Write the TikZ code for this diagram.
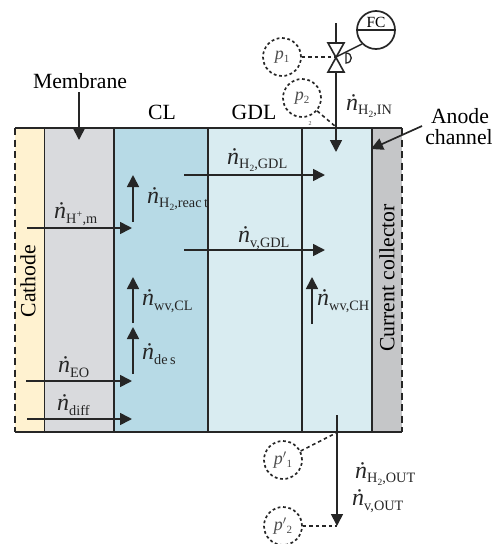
\documentclass[tikz,border=0pt]{standalone}
\usepackage{fontspec}
\setmainfont{Liberation Serif}
\usetikzlibrary{arrows.meta}
\newcommand{\nd}{{\fontsize{24}{24}\selectfont\itshape\.n}}
\newcommand{\sbs}[1]{\raisebox{-4.5pt}{\fontsize{14.3}{15}\selectfont #1}}
\newcommand{\tsb}[1]{\raisebox{-2.5pt}{\fontsize{9.5}{10}\selectfont #1}}
\newcommand{\psym}[2]{{\fontsize{18}{18}\selectfont\itshape p\/\upshape#1\raisebox{-3pt}{\fontsize{11}{11}\selectfont #2}}}
\tikzset{
  layer/.style={draw=black!85,line width=1.8pt},
  bigtxt/.style={font=\fontsize{21.7}{23}\selectfont,inner sep=0pt},
  flowlab/.style={inner sep=0pt,anchor=west,text=black!85},
  flow/.style={line width=1.7pt,draw=black!85,-{Triangle[length=12pt,width=12pt]}},
  plainline/.style={line width=1.7pt,draw=black!85},
  sensor/.style={circle,draw=black!85,line width=1.7pt,dash pattern=on 2.8pt off 2.6pt,minimum size=38pt,inner sep=0pt,text=black!70},
  sigline/.style={line width=1.6pt,draw=black!85,dash pattern=on 3.5pt off 3pt},
  valvepart/.style={draw=black!85,line width=1.6pt,fill=white}
}
\begin{document}
\begin{tikzpicture}[x=1pt,y=-1pt]
\useasboundingbox (0,0) rectangle (492,544);
% layers
\fill[fill={rgb,255:red,255;green,242;blue,208}] (15,128) rectangle (44,432);
\fill[fill={rgb,255:red,217;green,218;blue,221}] (44,128) rectangle (114,432);
\fill[fill={rgb,255:red,183;green,218;blue,230}] (114,128) rectangle (208,432);
\fill[fill={rgb,255:red,217;green,236;blue,241}] (208,128) rectangle (372,432);
\fill[fill={rgb,255:red,197;green,198;blue,200}] (372,128) rectangle (402,432);
\draw[layer] (15,128) -- (402,128);
\draw[layer] (15,432) -- (402,432);
\draw[layer,line width=1pt] (44,128) -- (44,432);
\draw[layer] (114,128) -- (114,432);
\draw[layer] (208,128) -- (208,432);
\draw[layer] (302,128) -- (302,432);
\draw[layer] (372,128) -- (372,432);
\draw[layer,dash pattern=on 7pt off 4.5pt] (15,128) -- (15,432);
\draw[layer,dash pattern=on 7pt off 4.5pt] (402,128) -- (402,432);
% headings
\node[bigtxt] (membrane) at (80,81) {Membrane};
\node[bigtxt] (cl) at (162,112) {CL};
\node[bigtxt] (gdl) at (254,112) {GDL};
\node[bigtxt] (anode) at (460,116) {Anode};
\node[bigtxt] (channel) at (459,137) {channel};
\node[bigtxt,rotate=90] (cathode) at (28,281) {Cathode};
\node[bigtxt,rotate=90] (collector) at (387,278) {Current collector};
\coordinate (memtip) at (79,140);
\coordinate (memtail) at (79,92);
\draw[flow] (memtail) -- (memtip);
\coordinate (chtip) at (371,149);
\coordinate (chtail) at (422,126);
\draw[flow] (chtail) -- (chtip);
% flows
\coordinate (a1) at (27,228); \coordinate (a2) at (132,228);
\draw[flow] (a1) -- (a2);
\coordinate (b1) at (26,381); \coordinate (b2) at (132,381);
\draw[flow] (b1) -- (b2);
\coordinate (c1) at (27,419); \coordinate (c2) at (132,419);
\draw[flow] (c1) -- (c2);
\coordinate (d1) at (133,222); \coordinate (d2) at (133,175);
\draw[flow] (d1) -- (d2);
\coordinate (e1) at (133,323); \coordinate (e2) at (133,277);
\draw[flow] (e1) -- (e2);
\coordinate (f1) at (133,374); \coordinate (f2) at (133,327);
\draw[flow] (f1) -- (f2);
\coordinate (g1) at (184,175); \coordinate (g2) at (325,175);
\draw[flow] (g1) -- (g2);
\coordinate (h1) at (184,250); \coordinate (h2) at (325,250);
\draw[flow] (h1) -- (h2);
\coordinate (i1) at (312,324); \coordinate (i2) at (312,277);
\draw[flow] (i1) -- (i2);
% labels
\node[flowlab] (lhm) at (54,214) {\nd\sbs{H\textsuperscript{+},m}};
\node[flowlab] (lreact) at (147,199) {\nd\sbs{H\tsb{2},reac\,t}};
\node[flowlab] (lgdl) at (227,160) {\nd\sbs{H\tsb{2},GDL}};
\node[flowlab] (lvgdl) at (238,238) {\nd\sbs{v,GDL}};
\node[flowlab] (lwvcl) at (142,301) {\nd\sbs{wv,CL}};
\node[flowlab] (ldes) at (142,354) {\nd\sbs{de\,s}};
\node[flowlab] (leo) at (58,367) {\nd\sbs{EO}};
\node[flowlab] (ldiff) at (57,405) {\nd\sbs{diff}};
\node[flowlab] (lwvch) at (317,301) {\nd\sbs{wv,CH}};
\node[flowlab] (lin) at (346,106) {\nd\sbs{H\tsb{2},IN}};
\node[flowlab] (lout) at (355,474) {\nd\sbs{H\tsb{2},OUT}};
\node[flowlab] (lvout) at (352,501) {\nd\sbs{v,OUT}};
% inlet and valve
\coordinate (v) at (336,57);
\coordinate (intop) at (336,23);
\coordinate (vtop) at (336,43);
\coordinate (vbot) at (336,72);
\coordinate (intip) at (336,152);
\draw[plainline] (intop) -- (vtop);
\draw[flow] (vbot) -- (intip);
\draw[valvepart] (328,43) -- (344,43) -- (328,72) -- (344,72) -- cycle;
\node[circle,draw=black!85,line width=1.7pt,minimum size=38pt,inner sep=0pt] (fc) at (376,30) {};
\draw[line width=1.5pt,draw=black!85] (fc.west) -- (fc.east);
\node[inner sep=0pt,font=\fontsize{15.5}{16}\selectfont] (fctxt) at (376,22) {FC};
\draw[plainline,line width=1.5pt] (v) -- (fc.south west);
\draw[line width=1.3pt,draw=black!85] (346,53) .. controls (353,53) and (353,63) .. (346,63) -- cycle;
% sensors
\node[sensor] (p1) at (282,57) {\psym{}{1}};
\node[sensor] (p2) at (302,98) {\psym{}{2}};
\node[sensor] (p3) at (283,460) {\psym{$'$}{1}};
\node[sensor] (p4) at (283,526) {\psym{$'$}{2}};
\node[inner sep=0pt,font=\fontsize{6}{6}\selectfont,text=black!70] (stray) at (310,123.5) {2};
\coordinate (topj) at (336,127);
\coordinate (botj) at (336,433);
\coordinate (outend) at (337,526);
\coordinate (outstart) at (337,415);
\draw[sigline] (p1) -- (v);
\draw[sigline] (p2) -- (topj);
\draw[sigline] (p3) -- (botj);
\draw[sigline] (p4) -- (outend);
\draw[flow] (outstart) -- (outend);
\end{tikzpicture}
\end{document}
